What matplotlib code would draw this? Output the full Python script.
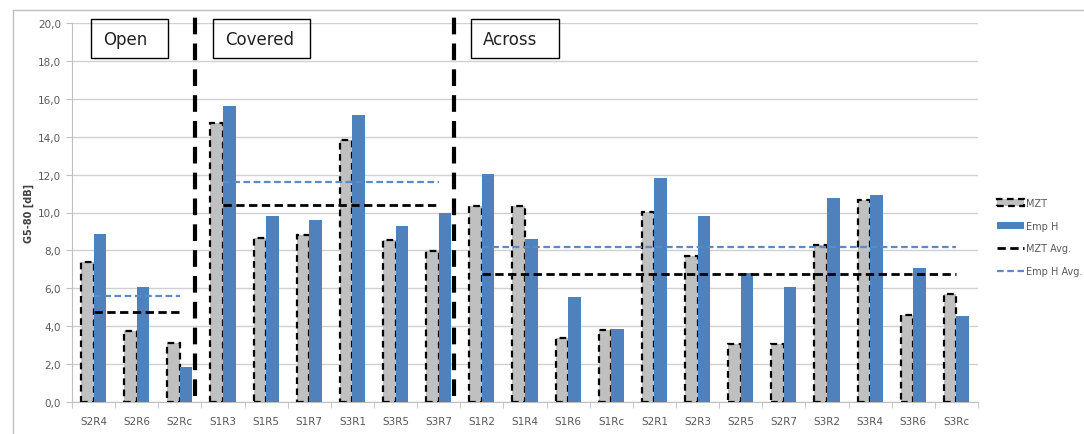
import numpy as np
import matplotlib
matplotlib.use('Agg')
import matplotlib.pyplot as plt
from matplotlib.patches import Patch, Rectangle
from matplotlib.lines import Line2D
from matplotlib.ticker import FuncFormatter

cats = ['S2R4', 'S2R6', 'S2Rc',
        'S1R3', 'S1R5', 'S1R7', 'S3R1', 'S3R5', 'S3R7',
        'S1R2', 'S1R4', 'S1R6', 'S1Rc', 'S2R1', 'S2R3', 'S2R5', 'S2R7',
        'S3R2', 'S3R4', 'S3R6', 'S3Rc']
mzt = [7.4, 3.75, 3.1,
       14.7, 8.65, 8.8, 13.8, 8.55, 7.95,
       10.35, 10.35, 3.38, 3.8, 10.05, 7.7, 3.05, 3.05, 8.27, 10.68, 4.6, 5.72]
emph = [8.85, 6.05, 1.86,
        15.6, 9.83, 9.6, 15.15, 9.3, 10.0,
        12.03, 8.6, 5.52, 3.85, 11.8, 9.83, 6.8, 6.05, 10.77, 10.94, 7.07, 4.56]

# groups: (name, first index, last index, MZT avg, EmpH avg)
groups = ['Open', 'Covered', 'Across']
group_start = [0, 3, 9]
group_end = [2, 8, 20]
mzt_avg = [4.73, 10.4, 6.75]
emph_avg = [5.61, 11.59, 8.16]

blue = '#4F81BD'
grey = '#C0C0C0'
txt = '#595959'

fig = plt.figure(figsize=(10.84, 4.35), dpi=100)
ax = fig.add_axes([72/1084, 1 - 403/435, (978 - 72)/1084, (403 - 24)/435])

x = np.arange(len(cats))
w = 0.29
ax.bar(x - w/2, mzt, w, color=grey, edgecolor='black', linestyle=(0, (3, 2)),
       linewidth=1.6, zorder=3)
ax.bar(x + w/2, emph, w, color=blue, zorder=3)

for i in range(len(groups)):
    xs = [group_start[i], group_end[i]]
    ax.plot(xs, [mzt_avg[i]] * 2, color='black', ls=(0, (3, 1.6)), lw=2, zorder=4)
    ax.plot(xs, [emph_avg[i]] * 2, color='#5A8BC6', ls=(0, (3, 1.6)), lw=1.6, zorder=4)

# section dividers
for b in [2.5 - 0.15, 8.5 - 0.15]:
    ax.plot([b, b], [0.3, 20.7], color='black', lw=3, ls=(0, (4, 2.2)),
            clip_on=False, zorder=5)

ax.set_xlim(-0.5, len(cats) - 0.5)
ax.set_ylim(0, 20)
ax.set_yticks(np.arange(0, 20.1, 2))
ax.yaxis.set_major_formatter(FuncFormatter(lambda v, p: f'{v:.1f}'.replace('.', ',')))
ax.set_xticks(x)
ax.set_xticklabels(cats)
ax.set_xticks(np.arange(-0.5, len(cats), 1), minor=True)
ax.tick_params(axis='x', which='major', length=0, pad=10, labelsize=7.5, labelcolor=txt)
ax.tick_params(axis='x', which='minor', length=4, color='#BFBFBF', direction='out')
ax.tick_params(axis='y', length=4, color='#BFBFBF', labelsize=7.5, labelcolor=txt, pad=4)
ax.grid(axis='y', color='#D0D0D0', lw=1, zorder=0)
for s in ['top', 'right']:
    ax.spines[s].set_visible(False)
ax.spines['left'].set_color('#BFBFBF')
ax.spines['bottom'].set_color('#BFBFBF')
ax.set_ylabel('G5-80 [dB]', fontsize=7, fontweight='bold', color='#404040', labelpad=3)

# section labels
box_x = [91, 213, 471]
box_w = [77, 97, 88]
for i, name in enumerate(groups):
    fig.patches.append(Rectangle((box_x[i]/1084, 1 - 59/435), box_w[i]/1084, 39/435,
                                 transform=fig.transFigure, fill=False,
                                 edgecolor='black', lw=1))
    fig.text((box_x[i] + 12)/1084, 1 - 40/435, name, fontsize=12, color='#222222',
             va='center', ha='left')

# chart frame
fig.add_artist(Line2D([13/1084, 1], [1 - 11/435] * 2, color='#BFBFBF', lw=1,
                      transform=fig.transFigure))
fig.add_artist(Line2D([13/1084] * 2, [0, 1 - 11/435], color='#BFBFBF', lw=1,
                      transform=fig.transFigure))

handles = [Patch(facecolor=grey, edgecolor='black', linestyle=(0, (3, 2)), lw=1.6, label='MZT'),
           Patch(facecolor=blue, label='Emp H'),
           Line2D([], [], color='black', ls=(0, (3, 1.6)), lw=2, label='MZT Avg.'),
           Line2D([], [], color='#5A8BC6', ls=(0, (3, 1.6)), lw=1.6, label='Emp H Avg.')]
fig.legend(handles=handles, loc='center left', bbox_to_anchor=(988/1084, 1 - 238/435),
           frameon=False, fontsize=7, labelcolor=txt, handlelength=2.8,
           handletextpad=0.2, labelspacing=1.3)

fig.savefig('out.png', dpi=100)
